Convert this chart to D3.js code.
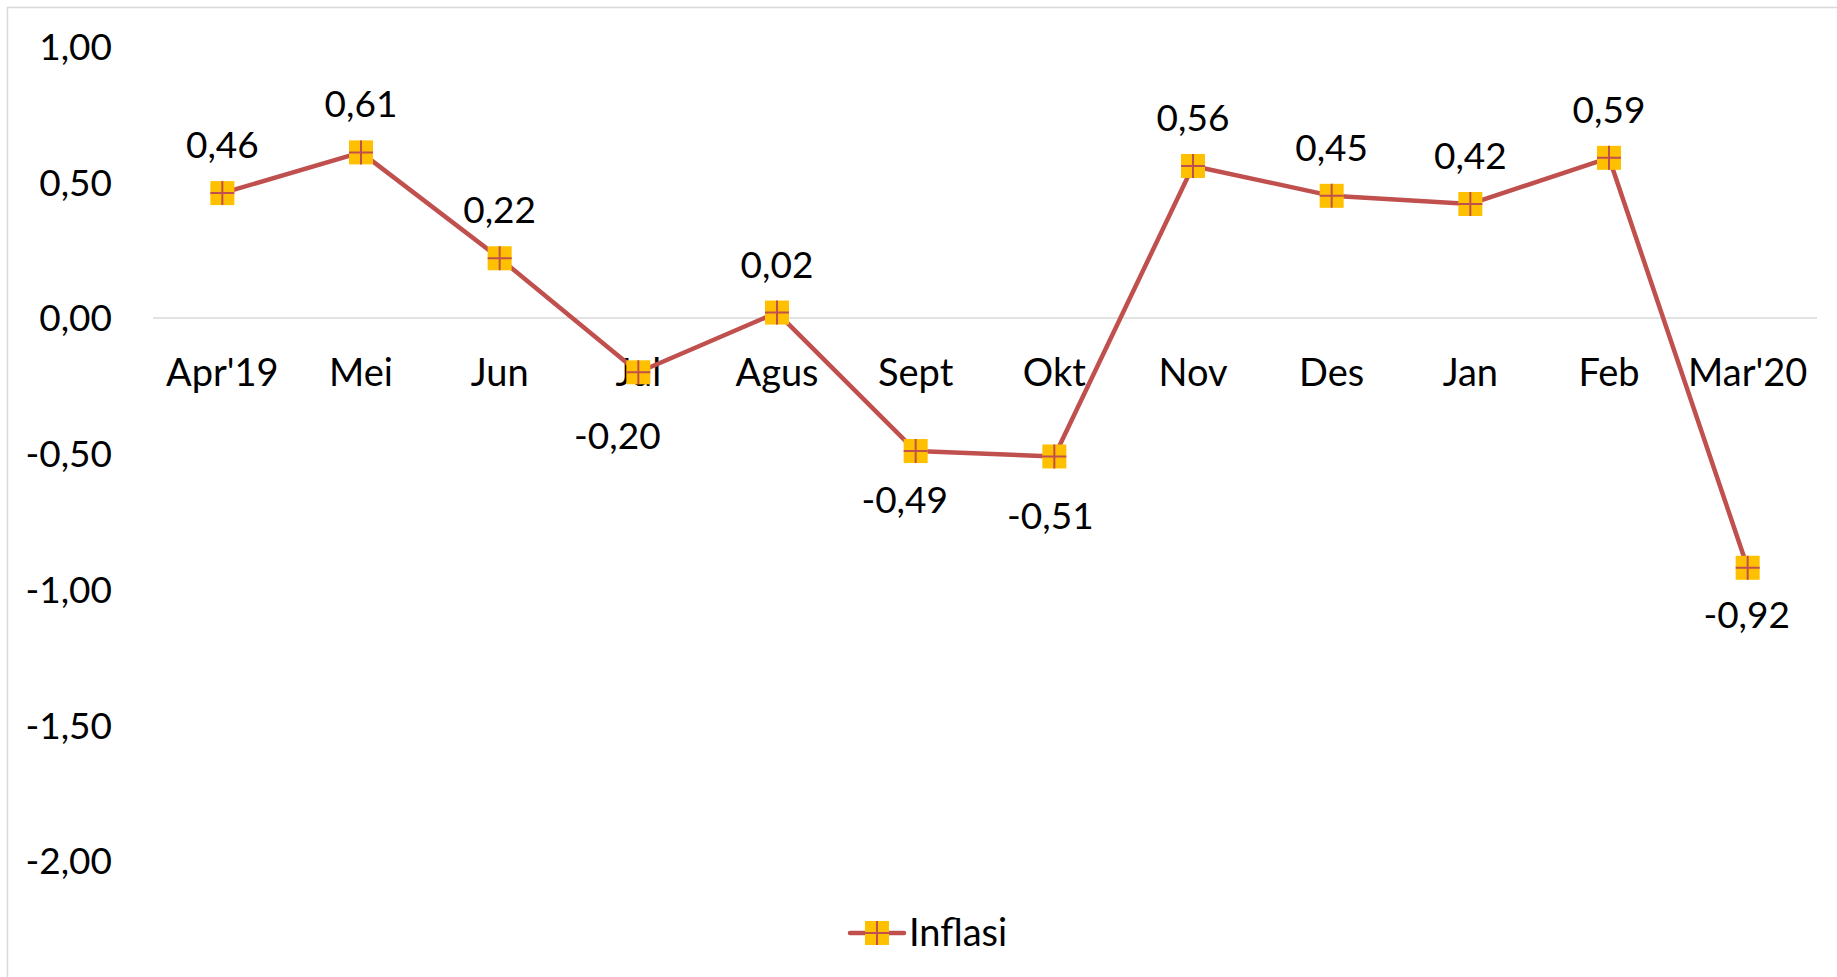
<!DOCTYPE html>
<html>
<head>
<meta charset="utf-8">
<script src="https://cdn.jsdelivr.net/npm/d3@7"></script>
<style>
  body { margin: 0; background: #fff; }
  svg { display: block; font-family: Lato, "Open Sans", sans-serif; }
</style>
</head>
<body>
<svg id="chart" width="1837" height="977"></svg>
<script>
const months = ["Apr'19", "Mei", "Jun", "Jul", "Agus", "Sept", "Okt", "Nov", "Des", "Jan", "Feb", "Mar'20"];
const inflasi = [0.46, 0.61, 0.22, -0.20, 0.02, -0.49, -0.51, 0.56, 0.45, 0.42, 0.59, -0.92];
const yTicks = [1, 0.5, 0, -0.5, -1, -1.5, -2];

// hand-placed label nudges for the labels under the line (dx, dy from marker)
const belowNudge = { 3: [-21, 77], 5: [-11, 62], 6: [-4, 73], 11: [-1, 60] };

const lineColor = '#c0504d';
const markerFill = '#ffc000';
const fmt = v => d3.format('.2f')(v).replace('.', ',').replace('−', '-');

const svg = d3.select('#chart');

// chart area border (only left/top visible in the picture)
svg.append('path')
    .attr('d', 'M7.5,977 V7.5 H1837')
    .attr('fill', 'none')
    .attr('stroke', '#d9d9d9')
    .attr('stroke-width', 1.5);

const x = d3.scaleBand()
    .domain(months)
    .range([153, 1817]);

const y = d3.scaleLinear()
    .domain([-2, 1])
    .range([861, 46.5]);

const cx = d => x(d) + x.bandwidth() / 2;

// y labels
svg.append('g')
    .selectAll('text')
    .data(yTicks)
    .join('text')
    .attr('x', 112)
    .attr('y', d => y(d))
    .attr('dy', '0.36em')
    .attr('text-anchor', 'end')
    .attr('font-size', 37)
    .attr('fill', '#000')
    .text(fmt);

// zero line
svg.append('line')
    .attr('x1', 153).attr('x2', 1817)
    .attr('y1', y(0)).attr('y2', y(0))
    .attr('stroke', '#d9d9d9')
    .attr('stroke-width', 1.5);

// category labels
svg.append('g')
    .selectAll('text')
    .data(months)
    .join('text')
    .attr('x', d => cx(d))
    .attr('y', 386)
    .attr('text-anchor', 'middle')
    .attr('font-size', 38)
    .attr('fill', '#000')
    .text(d => d);

// line
const line = d3.line()
    .x((d, i) => cx(months[i]))
    .y(d => y(d));

svg.append('path')
    .datum(inflasi)
    .attr('d', line)
    .attr('fill', 'none')
    .attr('stroke', lineColor)
    .attr('stroke-width', 4.5)
    .attr('stroke-linejoin', 'round');

function drawMarker(g, px, py) {
    const s = 24;
    g.append('rect')
        .attr('x', px - s / 2).attr('y', py - s / 2)
        .attr('width', s).attr('height', s)
        .attr('fill', markerFill);
    g.append('path')
        .attr('d', `M${px - s / 2},${py} H${px + s / 2} M${px},${py - s / 2} V${py + s / 2}`)
        .attr('stroke', lineColor)
        .attr('stroke-width', 2);
}

const markers = svg.append('g');
inflasi.forEach((v, i) => drawMarker(markers, cx(months[i]), y(v)));

// data labels
const nudge = i => belowNudge[i] || [0, -35];
svg.append('g')
    .selectAll('text')
    .data(inflasi)
    .join('text')
    .attr('x', (d, i) => cx(months[i]) + nudge(i)[0])
    .attr('y', (d, i) => y(d) + nudge(i)[1])
    .attr('text-anchor', 'middle')
    .attr('font-size', 37)
    .attr('fill', '#000')
    .text(fmt);

// legend
const leg = svg.append('g');
leg.append('line')
    .attr('x1', 850).attr('x2', 904)
    .attr('y1', 933).attr('y2', 933)
    .attr('stroke', lineColor)
    .attr('stroke-width', 4.5)
    .attr('stroke-linecap', 'round');
drawMarker(leg, 877, 933);
leg.append('text')
    .attr('x', 909)
    .attr('y', 946)
    .attr('font-size', 38)
    .attr('fill', '#000')
    .text('Inflasi');
</script>
</body>
</html>
